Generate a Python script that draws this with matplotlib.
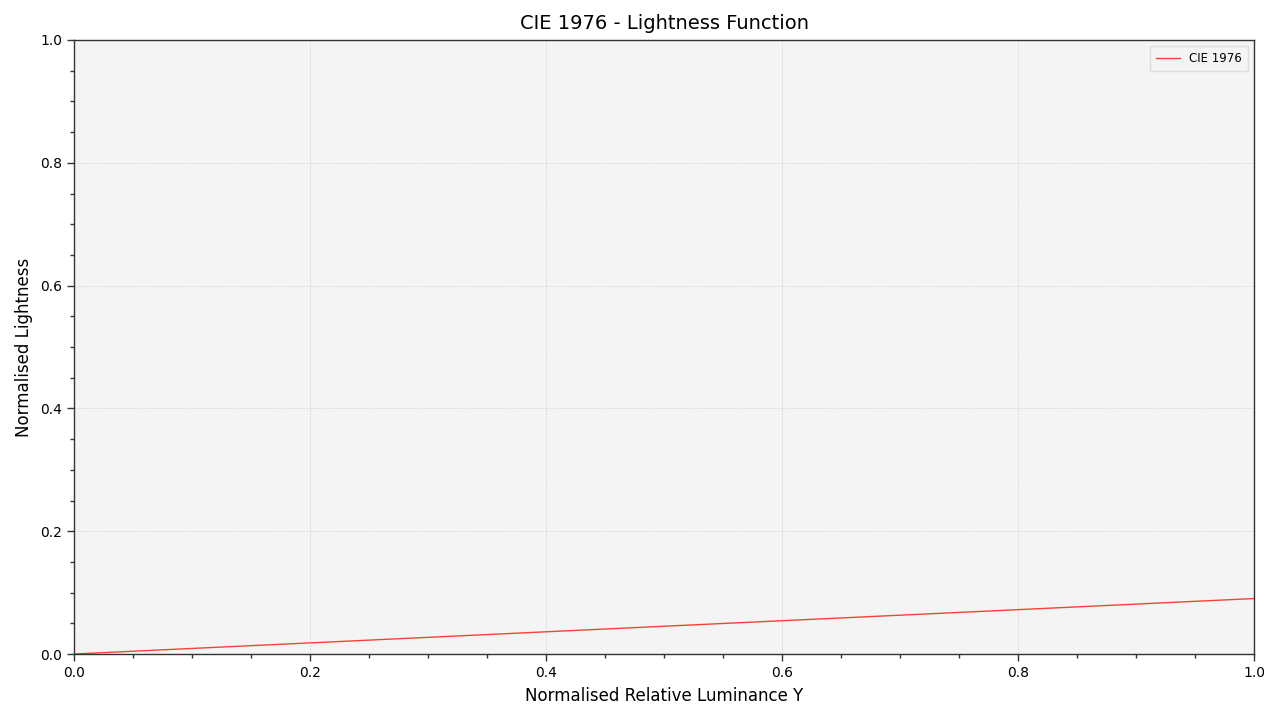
import numpy as np
import matplotlib.pyplot as plt
from matplotlib.ticker import MultipleLocator

# values
luminance = [0.0, 0.25, 0.5, 0.75, 1.0]
lightness = [0.0, 0.0226, 0.0452, 0.0677, 0.0903]

fig = plt.figure(figsize=(12.8, 7.2), dpi=100)
ax = fig.add_axes([74 / 1280, 1 - 654 / 720, 1180 / 1280, 614 / 720])
ax.set_facecolor('#F4F4F4')

ax.plot(luminance, lightness, color='#F44336', linewidth=1, label='CIE 1976')

ax.set_xlim(0, 1)
ax.set_ylim(0, 1)
ax.xaxis.set_major_locator(MultipleLocator(0.2))
ax.yaxis.set_major_locator(MultipleLocator(0.2))
ax.xaxis.set_minor_locator(MultipleLocator(0.05))
ax.yaxis.set_minor_locator(MultipleLocator(0.05))
ax.tick_params(which='major', direction='out', length=5, width=1, labelsize=10, color='#333333')
ax.tick_params(which='minor', direction='out', length=3, width=1, color='#333333')

ax.grid(True, which='major', color='#D5D5D5', linestyle='--', linewidth=0.5)
for s in ax.spines.values():
    s.set_color('#333333')
    s.set_linewidth(1)

ax.set_title('CIE 1976 - Lightness Function', fontsize=14, pad=8)
ax.set_xlabel('Normalised Relative Luminance Y', fontsize=12, labelpad=5)
ax.set_ylabel('Normalised Lightness', fontsize=12, labelpad=5)

leg = ax.legend(loc='upper right', fontsize=8.5, fancybox=False, framealpha=1, borderpad=0.5)
leg.get_frame().set_facecolor('#F4F4F4')
leg.get_frame().set_edgecolor('#DDDDDD')

fig.savefig('out.png', dpi=100)
